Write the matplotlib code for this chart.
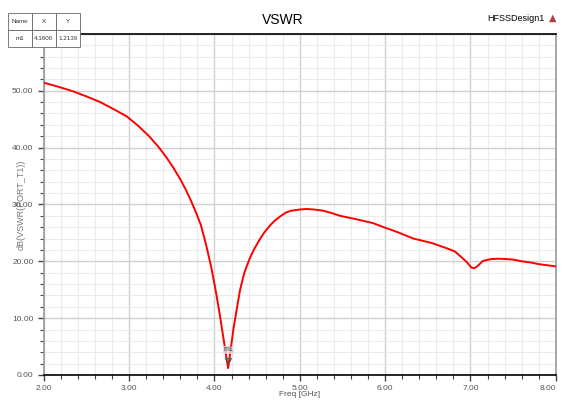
import matplotlib.pyplot as plt
from matplotlib.ticker import MultipleLocator, FormatStrFormatter

plt.rcParams['font.family'] = ['Liberation Sans Narrow', 'Liberation Sans', 'DejaVu Sans']

# 读图得到的数据
freq = [2.0, 2.17, 2.34, 2.5, 2.66, 2.8, 2.97, 3.1, 3.24, 3.35, 3.44, 3.52, 3.6, 3.66,
        3.72, 3.78, 3.84, 3.9, 3.96, 4.01, 4.06, 4.09, 4.12, 4.14, 4.16,
        4.19, 4.22, 4.26, 4.30, 4.35, 4.41, 4.46, 4.52, 4.58, 4.65, 4.71, 4.78, 4.84,
        4.9, 5.0, 5.08, 5.17, 5.27, 5.37, 5.47, 5.66, 5.86, 6.0, 6.15, 6.33, 6.44,
        6.55, 6.72, 6.77, 6.82, 6.91, 6.96, 7.01, 7.04, 7.06, 7.1, 7.14, 7.18, 7.25,
        7.33, 7.41, 7.5, 7.6, 7.7, 7.8, 7.9, 8.0]
vswr = [51.4, 50.7, 49.9, 49.0, 48.0, 46.9, 45.5, 43.9, 41.9, 40.0, 38.2, 36.4, 34.4, 32.7,
        30.8, 28.7, 26.4, 23.0, 19.1, 15.2, 10.8, 7.9, 5.0, 3.0, 1.21,
        4.5, 7.9, 11.5, 15.0, 18.0, 20.4, 22.0, 23.6, 25.0, 26.3, 27.2, 28.0, 28.6,
        28.9, 29.1, 29.2, 29.1, 28.9, 28.5, 28.0, 27.4, 26.7, 25.9, 25.1, 24.0, 23.6,
        23.2, 22.3, 22.0, 21.7, 20.5, 19.8, 18.9, 18.8, 18.9, 19.4, 20.0, 20.2, 20.4,
        20.45, 20.4, 20.3, 20.0, 19.8, 19.5, 19.3, 19.1]
freq_ticks = [2, 3, 4, 5, 6, 7, 8]
marker_name = 'm1'
marker_x = 4.16
marker_y = 1.2139

fig = plt.figure(figsize=(5.62, 4.03), dpi=100)
ax = fig.add_axes([0.078, 0.0695, 0.911, 0.8465])

ax.plot(freq, vswr, color='#ff0000', lw=1.4, zorder=3)
ax.plot([marker_x], [marker_y + 1.3], marker='v', ms=4, mfc='none', mec='#555555', mew=0.8, zorder=4)
ax.text(marker_x, marker_y + 2.6, marker_name, fontsize=5, color='#444444', ha='center', va='bottom',
        bbox=dict(boxstyle='square,pad=0.1', fc='#dddddd', ec='none', alpha=0.8), zorder=4)

ax.set_xlim(2, 8)
ax.set_ylim(0, 60)
ax.set_xticks(freq_ticks)
ax.xaxis.set_minor_locator(MultipleLocator(0.2))
ax.yaxis.set_major_locator(MultipleLocator(10))
ax.yaxis.set_minor_locator(MultipleLocator(2))
ax.xaxis.set_major_formatter(FormatStrFormatter('%.2f'))
ax.yaxis.set_major_formatter(FormatStrFormatter('%.2f'))
ax.grid(which='minor', color='#ebebeb', lw=0.8)
ax.grid(which='major', color='#d0d0d0', lw=1.0)
ax.set_axisbelow(True)

ax.tick_params(which='both', direction='out', colors='#444444', labelsize=6, labelcolor='#555555')
ax.tick_params(which='major', length=4, width=1)
ax.tick_params(which='minor', length=3, width=0.8)

for s in ['top', 'bottom']:
    ax.spines[s].set_color('black')
    ax.spines[s].set_linewidth(1.2)
for s in ['left', 'right']:
    ax.spines[s].set_color('#999999')
    ax.spines[s].set_linewidth(1.2)

ax.set_xlabel('Freq [GHz]', fontsize=6, color='#555555', va='center')
ax.xaxis.set_label_coords(0.5, -0.058)
ax.set_ylabel('dB(VSWR(PORT_T1))', fontsize=6.5, color='#777777', va='center')
ax.yaxis.set_label_coords(-0.045, 0.5)

# 最右边的 8.00 往里收一点，不然被裁掉
ax.xaxis.get_major_ticks()[-1].label1.set_horizontalalignment('right')

fig.text(0.503, 0.95, 'VSWR', fontsize=10, ha='center', va='center')
fig.text(0.968, 0.955, 'HFSSDesign1', fontsize=6.5, ha='right', va='center')
fig.text(0.983, 0.957, '▲', fontsize=7, color='#b04040', ha='center', va='center', family=['DejaVu Sans'])

# 标记表
tab_ax = fig.add_axes([8 / 562, 1 - 47 / 403, 72 / 562, 34 / 403])
tab_ax.axis('off')
tbl = tab_ax.table(cellText=[['Name', 'X', 'Y'], [marker_name, '%.4f' % 4.16, '%.4f' % marker_y]],
                   bbox=[0, 0, 1, 1], colWidths=[24, 24, 24], cellLoc='center')
tbl.auto_set_font_size(False)
for (r, c), cell in tbl.get_celld().items():
    cell.set_fontsize(4.5)
    cell.set_edgecolor('#666666')
    cell.set_linewidth(0.6)
    cell.PAD = 0.02
    cell.get_text().set_color('#333333')

fig.savefig('out.png', dpi=100)
